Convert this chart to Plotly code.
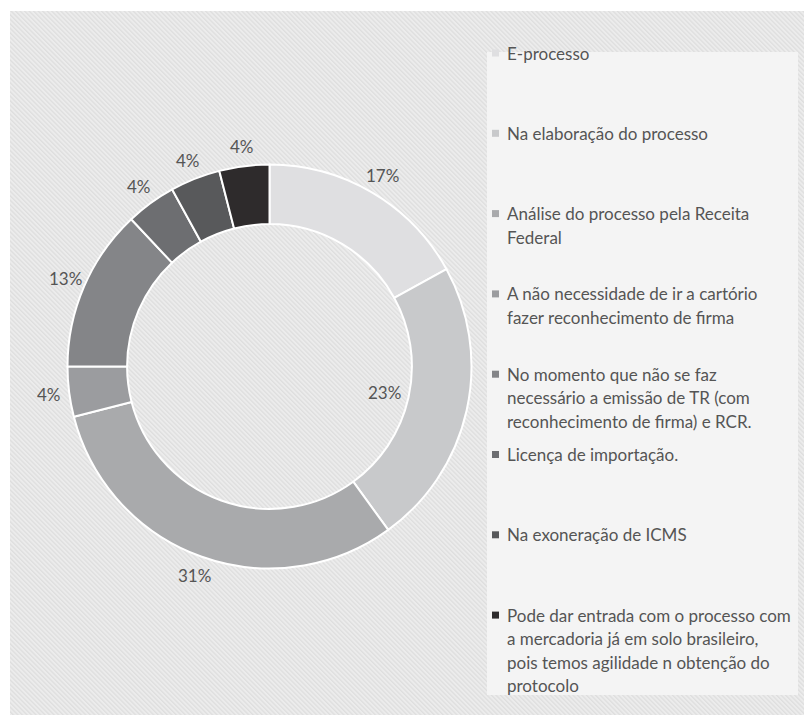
import base64
import math
import textwrap

import plotly.graph_objects as go

# Survey answers and their shares (%)
categories = [
    "E-processo",
    "Na elaboração do processo",
    "Análise do processo pela Receita Federal",
    "A não necessidade de ir a cartório fazer reconhecimento de firma",
    "No momento que não se faz necessário a emissão de TR (com reconhecimento de firma) e RCR.",
    "Licença de importação.",
    "Na exoneração de ICMS",
    "Pode dar entrada com o processo com a mercadoria já em solo brasileiro, pois temos agilidade n obtenção do protocolo",
]
shares = [17, 23, 31, 4, 13, 4, 4, 4]

slice_colors = ["#dfdfe1", "#c8c9cb", "#a9aaac", "#9b9c9f",
                "#848588", "#6d6e71", "#58595b", "#2e2b2c"]

W, H = 804, 715
FONT = "Lato"
TEXT_COLOR = "#555555"

# donut geometry in pixels
CX, CY, R_OUT = 269.5, 366.5, 202
HOLE = 0.705
LABEL_GAP = 20
INSIDE_LABELS = {1}  # slices whose label sits inside the hole


def px(x):
    return x / W


def py(y):
    return 1 - y / H


fig = go.Figure(go.Pie(
    labels=categories,
    values=shares,
    hole=HOLE,
    sort=False,
    direction="clockwise",
    rotation=0,
    textinfo="none",
    hoverinfo="label+percent",
    marker=dict(colors=slice_colors, line=dict(color="white", width=2)),
    domain=dict(x=[px(CX - R_OUT), px(CX + R_OUT)],
                y=[py(CY + R_OUT), py(CY - R_OUT)]),
    showlegend=False,
))

# hatched chart-area background
hatch_svg = (
    "<svg xmlns='http://www.w3.org/2000/svg' width='794' height='704'>"
    "<defs><pattern id='h' width='3.2' height='3.2' patternUnits='userSpaceOnUse' "
    "patternTransform='rotate(-45)'>"
    "<rect width='3.2' height='3.2' fill='#ececec'/>"
    "<rect width='1.3' height='3.2' fill='#dedede'/>"
    "</pattern></defs>"
    "<rect width='794' height='704' fill='url(#h)'/></svg>"
)
hatch_uri = "data:image/svg+xml;base64," + base64.b64encode(hatch_svg.encode()).decode()

shapes = [
    # legend panel
    dict(type="rect", xref="paper", yref="paper",
         x0=px(487), x1=px(798), y0=py(695), y1=py(52),
         fillcolor="#f4f4f4", line=dict(width=0), layer="below"),
]
annotations = []

# percentage labels at each slice's mid-angle
total = sum(shares)
cum = 0
for i, v in enumerate(shares):
    mid = (cum + v / 2) / total * 2 * math.pi
    cum += v
    if i in INSIDE_LABELS:
        r = R_OUT * HOLE - 25
    else:
        r = R_OUT + LABEL_GAP
    x = CX + r * math.sin(mid)
    y = CY - r * math.cos(mid)
    annotations.append(dict(
        x=px(x), y=py(y), xref="paper", yref="paper",
        text=f"{round(v / total * 100)}%", showarrow=False,
        xanchor="center", yanchor="middle",
        font=dict(family=FONT, size=17, color=TEXT_COLOR),
    ))

# legend entries
LEG_TOP, LEG_STEP, LINE_H = 53, 80.3, 23.5
MARK_X, MARK_S, TEXT_X = 492, 7, 505
for i, (name, col) in enumerate(zip(categories, slice_colors)):
    y0 = LEG_TOP + i * LEG_STEP
    shapes.append(dict(
        type="rect", xref="paper", yref="paper",
        x0=px(MARK_X), x1=px(MARK_X + MARK_S),
        y0=py(y0 + MARK_S / 2), y1=py(y0 - MARK_S / 2),
        fillcolor=col, line=dict(width=0), layer="above",
    ))
    for j, line in enumerate(textwrap.wrap(name, width=35)):
        annotations.append(dict(
            x=px(TEXT_X), y=py(y0 + j * LINE_H), xref="paper", yref="paper",
            text=line, showarrow=False, xanchor="left", yanchor="middle",
            font=dict(family=FONT, size=17, color=TEXT_COLOR),
        ))

fig.update_layout(
    width=W, height=H,
    margin=dict(l=0, r=0, t=0, b=0),
    paper_bgcolor="white",
    plot_bgcolor="white",
    images=[dict(source=hatch_uri, xref="paper", yref="paper",
                 x=px(10), y=py(11), sizex=794 / W, sizey=704 / H,
                 sizing="stretch", xanchor="left", yanchor="top",
                 layer="below")],
    shapes=shapes,
    annotations=annotations,
    font=dict(family=FONT),
)

fig.write_html("out.html")
